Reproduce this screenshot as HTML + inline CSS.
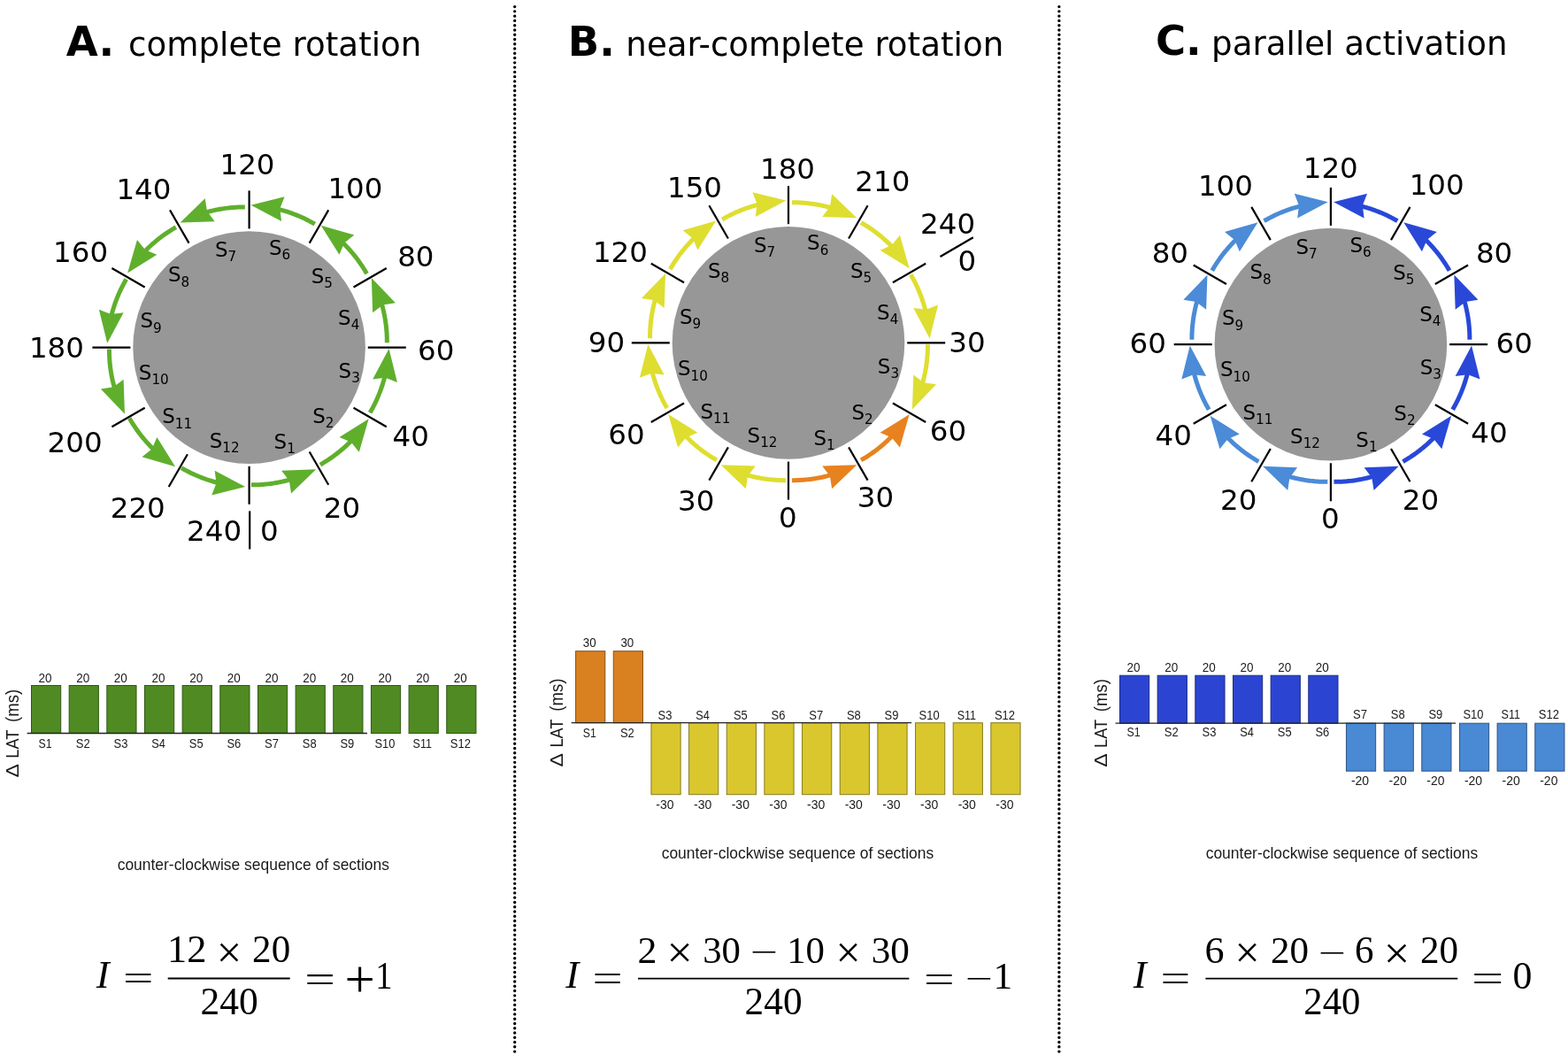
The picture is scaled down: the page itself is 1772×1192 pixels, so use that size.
<!DOCTYPE html>
<html><head><meta charset="utf-8"><title>Rotation index figure</title>
<style>html,body{margin:0;padding:0;background:#fff;overflow:hidden}svg{display:block}</style></head>
<body><svg width="1772" height="1192" viewBox="0 0 1772 1192">
<rect width="1772" height="1192" fill="#fff"/>
<line x1="581.7" y1="7.6" x2="581.7" y2="1190" stroke="#000" stroke-width="3.4" stroke-linecap="round" stroke-dasharray="0 5.27"/>
<line x1="1196.9" y1="7.6" x2="1196.9" y2="1190" stroke="#000" stroke-width="3.4" stroke-linecap="round" stroke-dasharray="0 5.27"/>
<text x="74.67" y="62.7" font-family="'DejaVu Sans', 'Liberation Sans', sans-serif" font-size="46.5" font-weight="bold">A.</text>
<text x="145.05" y="62.7" font-family="'DejaVu Sans', 'Liberation Sans', sans-serif" font-size="37.2">complete rotation</text>
<text x="641.83" y="62.5" font-family="'DejaVu Sans', 'Liberation Sans', sans-serif" font-size="46.5" font-weight="bold">B.</text>
<text x="707.32" y="62.5" font-family="'DejaVu Sans', 'Liberation Sans', sans-serif" font-size="37.2">near-complete rotation</text>
<text x="1305.88" y="62.4" font-family="'DejaVu Sans', 'Liberation Sans', sans-serif" font-size="46.5" font-weight="bold">C.</text>
<text x="1369.12" y="62.4" font-family="'DejaVu Sans', 'Liberation Sans', sans-serif" font-size="37.2">parallel activation</text>
<circle cx="281.6" cy="392.6" r="131.3" fill="#979797"/>
<line x1="281.6" y1="258.4" x2="281.6" y2="215.4" stroke="#000" stroke-width="2.2"/>
<line x1="349.7" y1="274.65" x2="371.2" y2="237.41" stroke="#000" stroke-width="2.2"/>
<line x1="399.55" y1="324.5" x2="436.79" y2="303" stroke="#000" stroke-width="2.2"/>
<line x1="415.8" y1="392.6" x2="458.8" y2="392.6" stroke="#000" stroke-width="2.2"/>
<line x1="399.55" y1="460.7" x2="436.79" y2="482.2" stroke="#000" stroke-width="2.2"/>
<line x1="349.7" y1="510.55" x2="371.2" y2="547.79" stroke="#000" stroke-width="2.2"/>
<line x1="281.6" y1="526.8" x2="281.6" y2="569.8" stroke="#000" stroke-width="2.2"/>
<line x1="211.9" y1="513.32" x2="190.7" y2="550.04" stroke="#000" stroke-width="2.2"/>
<line x1="163.65" y1="460.7" x2="126.41" y2="482.2" stroke="#000" stroke-width="2.2"/>
<line x1="147.4" y1="392.6" x2="104.4" y2="392.6" stroke="#000" stroke-width="2.2"/>
<line x1="163.65" y1="324.5" x2="126.41" y2="303" stroke="#000" stroke-width="2.2"/>
<line x1="213.5" y1="274.65" x2="192" y2="237.41" stroke="#000" stroke-width="2.2"/>
<line x1="282.2" y1="577.4" x2="282.2" y2="620.5" stroke="#000" stroke-width="2.2"/>
<path d="M283.96,547.86 L285.81,547.86 L287.67,547.84 L289.52,547.8 L291.37,547.73 L293.23,547.65 L295.08,547.54 L296.93,547.41 L298.78,547.26 L300.63,547.08 L302.48,546.88 L304.32,546.67 L306.17,546.43 L308.01,546.17 L309.85,545.88 L311.68,545.58 L313.51,545.25 L315.34,544.9 L317.17,544.53 L318.99,544.14 L320.81,543.73 L322.62,543.29 L324.43,542.83 L326.24,542.36 L328.03,541.86" fill="none" stroke="#5FAF2C" stroke-width="5.0"/>
<polygon points="357.22,530.34 329.06,557.46 326.83,543.2 318.15,531.67" fill="#5FAF2C"/>
<path d="M361.96,525.05 L363.57,524.12 L365.16,523.18 L366.75,522.22 L368.32,521.23 L369.88,520.23 L371.43,519.21 L372.97,518.17 L374.49,517.12 L376.01,516.04 L377.51,514.95 L379,513.84 L380.48,512.71 L381.94,511.56 L383.39,510.4 L384.83,509.21 L386.25,508.01 L387.66,506.8 L389.06,505.56 L390.44,504.31 L391.81,503.05 L393.16,501.76 L394.5,500.46 L395.82,499.15 L397.13,497.82" fill="none" stroke="#5FAF2C" stroke-width="5.0"/>
<polygon points="416.65,473.25 405.82,510.82 396.76,499.58 383.48,493.94" fill="#5FAF2C"/>
<path d="M418.11,466.3 L419.04,464.69 L419.95,463.08 L420.84,461.45 L421.71,459.81 L422.56,458.17 L423.39,456.51 L424.2,454.84 L425,453.16 L425.77,451.47 L426.53,449.77 L427.26,448.07 L427.97,446.35 L428.67,444.62 L429.34,442.89 L430,441.15 L430.63,439.4 L431.24,437.64 L431.83,435.87 L432.41,434.1 L432.96,432.32 L433.49,430.53 L434,428.73 L434.48,426.93 L434.95,425.13" fill="none" stroke="#5FAF2C" stroke-width="5.0"/>
<polygon points="439.57,394.1 448.97,432.04 435.51,426.84 421.19,428.6" fill="#5FAF2C"/>
<path d="M437.36,387.34 L437.36,385.49 L437.34,383.63 L437.3,381.78 L437.23,379.93 L437.15,378.07 L437.04,376.22 L436.91,374.37 L436.76,372.52 L436.58,370.67 L436.38,368.82 L436.17,366.98 L435.93,365.13 L435.67,363.29 L435.38,361.45 L435.08,359.62 L434.75,357.79 L434.4,355.96 L434.03,354.13 L433.64,352.31 L433.23,350.49 L432.79,348.68 L432.33,346.87 L431.86,345.06 L431.36,343.27" fill="none" stroke="#5FAF2C" stroke-width="5.0"/>
<polygon points="419.84,314.08 446.96,342.24 432.7,344.47 421.17,353.15" fill="#5FAF2C"/>
<path d="M414.55,309.34 L413.62,307.73 L412.68,306.14 L411.72,304.55 L410.73,302.98 L409.73,301.42 L408.71,299.87 L407.67,298.33 L406.62,296.81 L405.54,295.29 L404.45,293.79 L403.34,292.3 L402.21,290.82 L401.06,289.36 L399.9,287.91 L398.71,286.47 L397.51,285.05 L396.3,283.64 L395.06,282.24 L393.81,280.86 L392.55,279.49 L391.26,278.14 L389.96,276.8 L388.65,275.48 L387.32,274.17" fill="none" stroke="#5FAF2C" stroke-width="5.0"/>
<polygon points="362.75,254.65 400.32,265.48 389.08,274.54 383.44,287.82" fill="#5FAF2C"/>
<path d="M355.8,253.19 L354.19,252.26 L352.58,251.35 L350.95,250.46 L349.31,249.59 L347.67,248.74 L346.01,247.91 L344.34,247.1 L342.66,246.3 L340.97,245.53 L339.27,244.77 L337.57,244.04 L335.85,243.33 L334.12,242.63 L332.39,241.96 L330.65,241.3 L328.9,240.67 L327.14,240.06 L325.37,239.47 L323.6,238.89 L321.82,238.34 L320.03,237.81 L318.23,237.3 L316.43,236.82 L314.63,236.35" fill="none" stroke="#5FAF2C" stroke-width="5.0"/>
<polygon points="283.6,231.73 321.54,222.33 316.34,235.79 318.1,250.11" fill="#5FAF2C"/>
<path d="M276.84,233.94 L274.99,233.94 L273.13,233.96 L271.28,234 L269.43,234.07 L267.57,234.15 L265.72,234.26 L263.87,234.39 L262.02,234.54 L260.17,234.72 L258.32,234.92 L256.48,235.13 L254.63,235.37 L252.79,235.63 L250.95,235.92 L249.12,236.22 L247.29,236.55 L245.46,236.9 L243.63,237.27 L241.81,237.66 L239.99,238.07 L238.18,238.51 L236.37,238.97 L234.56,239.44 L232.77,239.94" fill="none" stroke="#5FAF2C" stroke-width="5.0"/>
<polygon points="203.58,251.46 231.74,224.34 233.97,238.6 242.65,250.13" fill="#5FAF2C"/>
<path d="M198.84,256.75 L197.23,257.68 L195.64,258.62 L194.05,259.58 L192.48,260.57 L190.92,261.57 L189.37,262.59 L187.83,263.63 L186.31,264.68 L184.79,265.76 L183.29,266.85 L181.8,267.96 L180.32,269.09 L178.86,270.24 L177.41,271.4 L175.97,272.59 L174.55,273.79 L173.14,275 L171.74,276.24 L170.36,277.49 L168.99,278.75 L167.64,280.04 L166.3,281.34 L164.98,282.65 L163.67,283.98" fill="none" stroke="#5FAF2C" stroke-width="5.0"/>
<polygon points="144.15,308.55 154.98,270.98 164.04,282.22 177.32,287.86" fill="#5FAF2C"/>
<path d="M142.69,315.5 L141.76,317.11 L140.85,318.72 L139.96,320.35 L139.09,321.99 L138.24,323.63 L137.41,325.29 L136.6,326.96 L135.8,328.64 L135.03,330.33 L134.27,332.03 L133.54,333.73 L132.83,335.45 L132.13,337.18 L131.46,338.91 L130.8,340.65 L130.17,342.4 L129.56,344.16 L128.97,345.93 L128.39,347.7 L127.84,349.48 L127.31,351.27 L126.8,353.07 L126.32,354.87 L125.85,356.67" fill="none" stroke="#5FAF2C" stroke-width="5.0"/>
<polygon points="121.23,387.7 111.83,349.76 125.29,354.96 139.61,353.2" fill="#5FAF2C"/>
<path d="M123.44,394.46 L123.44,396.31 L123.46,398.17 L123.5,400.02 L123.57,401.87 L123.65,403.73 L123.76,405.58 L123.89,407.43 L124.04,409.28 L124.22,411.13 L124.42,412.98 L124.63,414.82 L124.87,416.67 L125.13,418.51 L125.42,420.35 L125.72,422.18 L126.05,424.01 L126.4,425.84 L126.77,427.67 L127.16,429.49 L127.57,431.31 L128.01,433.12 L128.47,434.93 L128.94,436.74 L129.44,438.53" fill="none" stroke="#5FAF2C" stroke-width="5.0"/>
<polygon points="140.96,467.72 113.84,439.56 128.1,437.33 139.63,428.65" fill="#5FAF2C"/>
<path d="M146.25,472.46 L147.18,474.07 L148.12,475.66 L149.08,477.25 L150.07,478.82 L151.07,480.38 L152.09,481.93 L153.13,483.47 L154.18,484.99 L155.26,486.51 L156.35,488.01 L157.46,489.5 L158.59,490.98 L159.74,492.44 L160.9,493.89 L162.09,495.33 L163.29,496.75 L164.5,498.16 L165.74,499.56 L166.99,500.94 L168.25,502.31 L169.54,503.66 L170.84,505 L172.15,506.32 L173.48,507.63" fill="none" stroke="#5FAF2C" stroke-width="5.0"/>
<polygon points="198.05,527.15 160.48,516.32 171.72,507.26 177.36,493.98" fill="#5FAF2C"/>
<path d="M205,528.61 L206.61,529.54 L208.22,530.45 L209.85,531.34 L211.49,532.21 L213.13,533.06 L214.79,533.89 L216.46,534.7 L218.14,535.5 L219.83,536.27 L221.53,537.03 L223.23,537.76 L224.95,538.47 L226.68,539.17 L228.41,539.84 L230.15,540.5 L231.9,541.13 L233.66,541.74 L235.43,542.33 L237.2,542.91 L238.98,543.46 L240.77,543.99 L242.57,544.5 L244.37,544.98 L246.17,545.45" fill="none" stroke="#5FAF2C" stroke-width="5.0"/>
<polygon points="277.2,550.07 239.26,559.47 244.46,546.01 242.7,531.69" fill="#5FAF2C"/>
<text x="248.53" y="197.4" font-family="'DejaVu Sans', 'Liberation Sans', sans-serif" font-size="32.5">120</text>
<text x="370.38" y="223.5" font-family="'DejaVu Sans', 'Liberation Sans', sans-serif" font-size="32.5">100</text>
<text x="449.15" y="300.5" font-family="'DejaVu Sans', 'Liberation Sans', sans-serif" font-size="32.5">80</text>
<text x="472.07" y="406.6" font-family="'DejaVu Sans', 'Liberation Sans', sans-serif" font-size="32.5">60</text>
<text x="443.56" y="504.2" font-family="'DejaVu Sans', 'Liberation Sans', sans-serif" font-size="32.5">40</text>
<text x="365.86" y="585.1" font-family="'DejaVu Sans', 'Liberation Sans', sans-serif" font-size="32.5">20</text>
<text x="294.07" y="610.7" font-family="'DejaVu Sans', 'Liberation Sans', sans-serif" font-size="32.5">0</text>
<text x="211.07" y="610.7" font-family="'DejaVu Sans', 'Liberation Sans', sans-serif" font-size="32.5">240</text>
<text x="124.72" y="585.1" font-family="'DejaVu Sans', 'Liberation Sans', sans-serif" font-size="32.5">220</text>
<text x="53.62" y="511.1" font-family="'DejaVu Sans', 'Liberation Sans', sans-serif" font-size="32.5">200</text>
<text x="32.93" y="403.5" font-family="'DejaVu Sans', 'Liberation Sans', sans-serif" font-size="32.5">180</text>
<text x="60.08" y="296.3" font-family="'DejaVu Sans', 'Liberation Sans', sans-serif" font-size="32.5">160</text>
<text x="131.38" y="224.5" font-family="'DejaVu Sans', 'Liberation Sans', sans-serif" font-size="32.5">140</text>
<text x="309.58" y="507.17" font-family="'DejaVu Sans', 'Liberation Sans', sans-serif" font-size="23">S<tspan font-size="15.2" dy="5.2">1</tspan></text>
<text x="353.18" y="477.77" font-family="'DejaVu Sans', 'Liberation Sans', sans-serif" font-size="23">S<tspan font-size="15.2" dy="5.2">2</tspan></text>
<text x="382.58" y="427.07" font-family="'DejaVu Sans', 'Liberation Sans', sans-serif" font-size="23">S<tspan font-size="15.2" dy="5.2">3</tspan></text>
<text x="382.08" y="367.07" font-family="'DejaVu Sans', 'Liberation Sans', sans-serif" font-size="23">S<tspan font-size="15.2" dy="5.2">4</tspan></text>
<text x="351.68" y="319.67" font-family="'DejaVu Sans', 'Liberation Sans', sans-serif" font-size="23">S<tspan font-size="15.2" dy="5.2">5</tspan></text>
<text x="303.88" y="288.17" font-family="'DejaVu Sans', 'Liberation Sans', sans-serif" font-size="23">S<tspan font-size="15.2" dy="5.2">6</tspan></text>
<text x="242.98" y="290.27" font-family="'DejaVu Sans', 'Liberation Sans', sans-serif" font-size="23">S<tspan font-size="15.2" dy="5.2">7</tspan></text>
<text x="189.88" y="318.37" font-family="'DejaVu Sans', 'Liberation Sans', sans-serif" font-size="23">S<tspan font-size="15.2" dy="5.2">8</tspan></text>
<text x="158.48" y="370.37" font-family="'DejaVu Sans', 'Liberation Sans', sans-serif" font-size="23">S<tspan font-size="15.2" dy="5.2">9</tspan></text>
<text x="156.78" y="428.87" font-family="'DejaVu Sans', 'Liberation Sans', sans-serif" font-size="23">S<tspan font-size="15.2" dy="5.2">10</tspan></text>
<text x="183.18" y="478.47" font-family="'DejaVu Sans', 'Liberation Sans', sans-serif" font-size="23">S<tspan font-size="15.2" dy="5.2">11</tspan></text>
<text x="236.68" y="505.67" font-family="'DejaVu Sans', 'Liberation Sans', sans-serif" font-size="23">S<tspan font-size="15.2" dy="5.2">12</tspan></text>
<circle cx="891" cy="387.4" r="131.3" fill="#979797"/>
<line x1="891" y1="253.2" x2="891" y2="210.2" stroke="#000" stroke-width="2.2"/>
<line x1="959.1" y1="269.45" x2="980.6" y2="232.21" stroke="#000" stroke-width="2.2"/>
<line x1="1008.95" y1="319.3" x2="1046.19" y2="297.8" stroke="#000" stroke-width="2.2"/>
<line x1="1025.2" y1="387.4" x2="1068.2" y2="387.4" stroke="#000" stroke-width="2.2"/>
<line x1="1008.95" y1="455.5" x2="1046.19" y2="477" stroke="#000" stroke-width="2.2"/>
<line x1="959.1" y1="505.35" x2="980.6" y2="542.59" stroke="#000" stroke-width="2.2"/>
<line x1="891" y1="521.6" x2="891" y2="564.6" stroke="#000" stroke-width="2.2"/>
<line x1="822.9" y1="505.35" x2="801.4" y2="542.59" stroke="#000" stroke-width="2.2"/>
<line x1="773.05" y1="455.5" x2="735.81" y2="477" stroke="#000" stroke-width="2.2"/>
<line x1="756.8" y1="387.4" x2="713.8" y2="387.4" stroke="#000" stroke-width="2.2"/>
<line x1="773.05" y1="319.3" x2="735.81" y2="297.8" stroke="#000" stroke-width="2.2"/>
<line x1="822.9" y1="269.45" x2="801.4" y2="232.21" stroke="#000" stroke-width="2.2"/>
<line x1="1062.5" y1="290" x2="1099.8" y2="268.2" stroke="#000" stroke-width="2.2"/>
<path d="M895.06,542.66 L896.91,542.66 L898.77,542.64 L900.62,542.6 L902.47,542.53 L904.33,542.45 L906.18,542.34 L908.03,542.21 L909.88,542.06 L911.73,541.88 L913.58,541.68 L915.42,541.47 L917.27,541.23 L919.11,540.97 L920.95,540.68 L922.78,540.38 L924.61,540.05 L926.44,539.7 L928.27,539.33 L930.09,538.94 L931.91,538.53 L933.72,538.09 L935.53,537.63 L937.34,537.16 L939.13,536.66" fill="none" stroke="#E8821E" stroke-width="5.0"/>
<polygon points="968.32,525.14 940.16,552.26 937.93,538 929.25,526.47" fill="#E8821E"/>
<path d="M973.06,519.85 L974.67,518.92 L976.26,517.98 L977.85,517.02 L979.42,516.03 L980.98,515.03 L982.53,514.01 L984.07,512.97 L985.59,511.92 L987.11,510.84 L988.61,509.75 L990.1,508.64 L991.58,507.51 L993.04,506.36 L994.49,505.2 L995.93,504.01 L997.35,502.81 L998.76,501.6 L1000.16,500.36 L1001.54,499.11 L1002.91,497.85 L1004.26,496.56 L1005.6,495.26 L1006.92,493.95 L1008.23,492.62" fill="none" stroke="#E8821E" stroke-width="5.0"/>
<polygon points="1027.75,468.05 1016.92,505.62 1007.86,494.38 994.58,488.74" fill="#E8821E"/>
<path d="M887.94,542.66 L886.09,542.66 L884.23,542.64 L882.38,542.6 L880.53,542.53 L878.67,542.45 L876.82,542.34 L874.97,542.21 L873.12,542.06 L871.27,541.88 L869.42,541.68 L867.58,541.47 L865.73,541.23 L863.89,540.97 L862.05,540.68 L860.22,540.38 L858.39,540.05 L856.56,539.7 L854.73,539.33 L852.91,538.94 L851.09,538.53 L849.28,538.09 L847.47,537.63 L845.66,537.16 L843.87,536.66" fill="none" stroke="#DEDE30" stroke-width="5.0"/>
<polygon points="814.68,525.14 853.75,526.47 845.07,538 842.84,552.26" fill="#DEDE30"/>
<path d="M809.94,519.85 L808.33,518.92 L806.74,517.98 L805.15,517.02 L803.58,516.03 L802.02,515.03 L800.47,514.01 L798.93,512.97 L797.41,511.92 L795.89,510.84 L794.39,509.75 L792.9,508.64 L791.42,507.51 L789.96,506.36 L788.51,505.2 L787.07,504.01 L785.65,502.81 L784.24,501.6 L782.84,500.36 L781.46,499.11 L780.09,497.85 L778.74,496.56 L777.4,495.26 L776.08,493.95 L774.77,492.62" fill="none" stroke="#DEDE30" stroke-width="5.0"/>
<polygon points="755.25,468.05 788.42,488.74 775.14,494.38 766.08,505.62" fill="#DEDE30"/>
<path d="M753.79,461.1 L752.86,459.49 L751.95,457.88 L751.06,456.25 L750.19,454.61 L749.34,452.97 L748.51,451.31 L747.7,449.64 L746.9,447.96 L746.13,446.27 L745.37,444.57 L744.64,442.87 L743.93,441.15 L743.23,439.42 L742.56,437.69 L741.9,435.95 L741.27,434.2 L740.66,432.44 L740.07,430.67 L739.49,428.9 L738.94,427.12 L738.41,425.33 L737.9,423.53 L737.42,421.73 L736.95,419.93" fill="none" stroke="#DEDE30" stroke-width="5.0"/>
<polygon points="732.33,388.9 750.71,423.4 736.39,421.64 722.93,426.84" fill="#DEDE30"/>
<path d="M734.54,382.14 L734.54,380.29 L734.56,378.43 L734.6,376.58 L734.67,374.73 L734.75,372.87 L734.86,371.02 L734.99,369.17 L735.14,367.32 L735.32,365.47 L735.52,363.62 L735.73,361.78 L735.97,359.93 L736.23,358.09 L736.52,356.25 L736.82,354.42 L737.15,352.59 L737.5,350.76 L737.87,348.93 L738.26,347.11 L738.67,345.29 L739.11,343.48 L739.57,341.67 L740.04,339.86 L740.54,338.07" fill="none" stroke="#DEDE30" stroke-width="5.0"/>
<polygon points="752.06,308.88 750.73,347.95 739.2,339.27 724.94,337.04" fill="#DEDE30"/>
<path d="M757.35,304.14 L758.28,302.53 L759.22,300.94 L760.18,299.35 L761.17,297.78 L762.17,296.22 L763.19,294.67 L764.23,293.13 L765.28,291.61 L766.36,290.09 L767.45,288.59 L768.56,287.1 L769.69,285.62 L770.84,284.16 L772,282.71 L773.19,281.27 L774.39,279.85 L775.6,278.44 L776.84,277.04 L778.09,275.66 L779.35,274.29 L780.64,272.94 L781.94,271.6 L783.25,270.28 L784.58,268.97" fill="none" stroke="#DEDE30" stroke-width="5.0"/>
<polygon points="809.15,249.45 788.46,282.62 782.82,269.34 771.58,260.28" fill="#DEDE30"/>
<path d="M816.1,247.99 L817.71,247.06 L819.32,246.15 L820.95,245.26 L822.59,244.39 L824.23,243.54 L825.89,242.71 L827.56,241.9 L829.24,241.1 L830.93,240.33 L832.63,239.57 L834.33,238.84 L836.05,238.13 L837.78,237.43 L839.51,236.76 L841.25,236.1 L843,235.47 L844.76,234.86 L846.53,234.27 L848.3,233.69 L850.08,233.14 L851.87,232.61 L853.67,232.1 L855.47,231.62 L857.27,231.15" fill="none" stroke="#DEDE30" stroke-width="5.0"/>
<polygon points="888.3,226.53 853.8,244.91 855.56,230.59 850.36,217.13" fill="#DEDE30"/>
<path d="M895.06,228.74 L896.91,228.74 L898.77,228.76 L900.62,228.8 L902.47,228.87 L904.33,228.95 L906.18,229.06 L908.03,229.19 L909.88,229.34 L911.73,229.52 L913.58,229.72 L915.42,229.93 L917.27,230.17 L919.11,230.43 L920.95,230.72 L922.78,231.02 L924.61,231.35 L926.44,231.7 L928.27,232.07 L930.09,232.46 L931.91,232.87 L933.72,233.31 L935.53,233.77 L937.34,234.24 L939.13,234.74" fill="none" stroke="#DEDE30" stroke-width="5.0"/>
<polygon points="968.32,246.26 929.25,244.93 937.93,233.4 940.16,219.14" fill="#DEDE30"/>
<path d="M973.06,251.55 L974.67,252.48 L976.26,253.42 L977.85,254.38 L979.42,255.37 L980.98,256.37 L982.53,257.39 L984.07,258.43 L985.59,259.48 L987.11,260.56 L988.61,261.65 L990.1,262.76 L991.58,263.89 L993.04,265.04 L994.49,266.2 L995.93,267.39 L997.35,268.59 L998.76,269.8 L1000.16,271.04 L1001.54,272.29 L1002.91,273.55 L1004.26,274.84 L1005.6,276.14 L1006.92,277.45 L1008.23,278.78" fill="none" stroke="#DEDE30" stroke-width="5.0"/>
<polygon points="1027.75,303.35 994.58,282.66 1007.86,277.02 1016.92,265.78" fill="#DEDE30"/>
<path d="M1029.21,310.3 L1030.14,311.91 L1031.05,313.52 L1031.94,315.15 L1032.81,316.79 L1033.66,318.43 L1034.49,320.09 L1035.3,321.76 L1036.1,323.44 L1036.87,325.13 L1037.63,326.83 L1038.36,328.53 L1039.07,330.25 L1039.77,331.98 L1040.44,333.71 L1041.1,335.45 L1041.73,337.2 L1042.34,338.96 L1042.93,340.73 L1043.51,342.5 L1044.06,344.28 L1044.59,346.07 L1045.1,347.87 L1045.58,349.67 L1046.05,351.47" fill="none" stroke="#DEDE30" stroke-width="5.0"/>
<polygon points="1050.67,382.5 1032.29,348 1046.61,349.76 1060.07,344.56" fill="#DEDE30"/>
<path d="M1048.46,389.26 L1048.46,391.11 L1048.44,392.97 L1048.4,394.82 L1048.33,396.67 L1048.25,398.53 L1048.14,400.38 L1048.01,402.23 L1047.86,404.08 L1047.68,405.93 L1047.48,407.78 L1047.27,409.62 L1047.03,411.47 L1046.77,413.31 L1046.48,415.15 L1046.18,416.98 L1045.85,418.81 L1045.5,420.64 L1045.13,422.47 L1044.74,424.29 L1044.33,426.11 L1043.89,427.92 L1043.43,429.73 L1042.96,431.54 L1042.46,433.33" fill="none" stroke="#DEDE30" stroke-width="5.0"/>
<polygon points="1030.94,462.52 1032.27,423.45 1043.8,432.13 1058.06,434.36" fill="#DEDE30"/>
<text x="859.03" y="201.5" font-family="'DejaVu Sans', 'Liberation Sans', sans-serif" font-size="32.5">180</text>
<text x="966.32" y="216.1" font-family="'DejaVu Sans', 'Liberation Sans', sans-serif" font-size="32.5">210</text>
<text x="1040.12" y="264.4" font-family="'DejaVu Sans', 'Liberation Sans', sans-serif" font-size="32.5">240</text>
<text x="1082.57" y="306.3" font-family="'DejaVu Sans', 'Liberation Sans', sans-serif" font-size="32.5">0</text>
<text x="1072.36" y="398.2" font-family="'DejaVu Sans', 'Liberation Sans', sans-serif" font-size="32.5">30</text>
<text x="1050.87" y="497.9" font-family="'DejaVu Sans', 'Liberation Sans', sans-serif" font-size="32.5">60</text>
<text x="968.71" y="573.4" font-family="'DejaVu Sans', 'Liberation Sans', sans-serif" font-size="32.5">30</text>
<text x="880.02" y="595.6" font-family="'DejaVu Sans', 'Liberation Sans', sans-serif" font-size="32.5">0</text>
<text x="766.01" y="577.1" font-family="'DejaVu Sans', 'Liberation Sans', sans-serif" font-size="32.5">30</text>
<text x="687.27" y="501.6" font-family="'DejaVu Sans', 'Liberation Sans', sans-serif" font-size="32.5">60</text>
<text x="664.83" y="398.2" font-family="'DejaVu Sans', 'Liberation Sans', sans-serif" font-size="32.5">90</text>
<text x="669.88" y="296.3" font-family="'DejaVu Sans', 'Liberation Sans', sans-serif" font-size="32.5">120</text>
<text x="753.98" y="222.9" font-family="'DejaVu Sans', 'Liberation Sans', sans-serif" font-size="32.5">150</text>
<text x="919.38" y="502.97" font-family="'DejaVu Sans', 'Liberation Sans', sans-serif" font-size="23">S<tspan font-size="15.2" dy="5.2">1</tspan></text>
<text x="962.38" y="473.67" font-family="'DejaVu Sans', 'Liberation Sans', sans-serif" font-size="23">S<tspan font-size="15.2" dy="5.2">2</tspan></text>
<text x="991.78" y="422.27" font-family="'DejaVu Sans', 'Liberation Sans', sans-serif" font-size="23">S<tspan font-size="15.2" dy="5.2">3</tspan></text>
<text x="991.08" y="361.17" font-family="'DejaVu Sans', 'Liberation Sans', sans-serif" font-size="23">S<tspan font-size="15.2" dy="5.2">4</tspan></text>
<text x="960.88" y="313.97" font-family="'DejaVu Sans', 'Liberation Sans', sans-serif" font-size="23">S<tspan font-size="15.2" dy="5.2">5</tspan></text>
<text x="912.08" y="282.47" font-family="'DejaVu Sans', 'Liberation Sans', sans-serif" font-size="23">S<tspan font-size="15.2" dy="5.2">6</tspan></text>
<text x="851.88" y="285.27" font-family="'DejaVu Sans', 'Liberation Sans', sans-serif" font-size="23">S<tspan font-size="15.2" dy="5.2">7</tspan></text>
<text x="799.88" y="313.97" font-family="'DejaVu Sans', 'Liberation Sans', sans-serif" font-size="23">S<tspan font-size="15.2" dy="5.2">8</tspan></text>
<text x="767.98" y="365.77" font-family="'DejaVu Sans', 'Liberation Sans', sans-serif" font-size="23">S<tspan font-size="15.2" dy="5.2">9</tspan></text>
<text x="765.98" y="424.37" font-family="'DejaVu Sans', 'Liberation Sans', sans-serif" font-size="23">S<tspan font-size="15.2" dy="5.2">10</tspan></text>
<text x="791.48" y="472.57" font-family="'DejaVu Sans', 'Liberation Sans', sans-serif" font-size="23">S<tspan font-size="15.2" dy="5.2">11</tspan></text>
<text x="844.58" y="499.87" font-family="'DejaVu Sans', 'Liberation Sans', sans-serif" font-size="23">S<tspan font-size="15.2" dy="5.2">12</tspan></text>
<circle cx="1503.9" cy="389.1" r="131.3" fill="#979797"/>
<line x1="1503.9" y1="254.9" x2="1503.9" y2="211.9" stroke="#000" stroke-width="2.2"/>
<line x1="1572" y1="271.15" x2="1593.5" y2="233.91" stroke="#000" stroke-width="2.2"/>
<line x1="1621.85" y1="321" x2="1659.09" y2="299.5" stroke="#000" stroke-width="2.2"/>
<line x1="1638.1" y1="389.1" x2="1681.1" y2="389.1" stroke="#000" stroke-width="2.2"/>
<line x1="1621.85" y1="457.2" x2="1659.09" y2="478.7" stroke="#000" stroke-width="2.2"/>
<line x1="1572" y1="507.05" x2="1593.5" y2="544.29" stroke="#000" stroke-width="2.2"/>
<line x1="1503.9" y1="523.3" x2="1503.9" y2="566.3" stroke="#000" stroke-width="2.2"/>
<line x1="1435.8" y1="507.05" x2="1414.3" y2="544.29" stroke="#000" stroke-width="2.2"/>
<line x1="1385.95" y1="457.2" x2="1348.71" y2="478.7" stroke="#000" stroke-width="2.2"/>
<line x1="1369.7" y1="389.1" x2="1326.7" y2="389.1" stroke="#000" stroke-width="2.2"/>
<line x1="1385.95" y1="321" x2="1348.71" y2="299.5" stroke="#000" stroke-width="2.2"/>
<line x1="1435.8" y1="271.15" x2="1414.3" y2="233.91" stroke="#000" stroke-width="2.2"/>
<path d="M1507.46,544.36 L1509.31,544.36 L1511.17,544.34 L1513.02,544.3 L1514.87,544.23 L1516.73,544.15 L1518.58,544.04 L1520.43,543.91 L1522.28,543.76 L1524.13,543.58 L1525.98,543.38 L1527.82,543.17 L1529.67,542.93 L1531.51,542.67 L1533.35,542.38 L1535.18,542.08 L1537.01,541.75 L1538.84,541.4 L1540.67,541.03 L1542.49,540.64 L1544.31,540.23 L1546.12,539.79 L1547.93,539.33 L1549.74,538.86 L1551.53,538.36" fill="none" stroke="#2948D8" stroke-width="5.0"/>
<polygon points="1580.72,526.84 1552.56,553.96 1550.33,539.7 1541.65,528.17" fill="#2948D8"/>
<path d="M1585.46,521.55 L1587.07,520.62 L1588.66,519.68 L1590.25,518.72 L1591.82,517.73 L1593.38,516.73 L1594.93,515.71 L1596.47,514.67 L1597.99,513.62 L1599.51,512.54 L1601.01,511.45 L1602.5,510.34 L1603.98,509.21 L1605.44,508.06 L1606.89,506.9 L1608.33,505.71 L1609.75,504.51 L1611.16,503.3 L1612.56,502.06 L1613.94,500.81 L1615.31,499.55 L1616.66,498.26 L1618,496.96 L1619.32,495.65 L1620.63,494.32" fill="none" stroke="#2948D8" stroke-width="5.0"/>
<polygon points="1640.15,469.75 1629.32,507.32 1620.26,496.08 1606.98,490.44" fill="#2948D8"/>
<path d="M1641.61,462.8 L1642.54,461.19 L1643.45,459.58 L1644.34,457.95 L1645.21,456.31 L1646.06,454.67 L1646.89,453.01 L1647.7,451.34 L1648.5,449.66 L1649.27,447.97 L1650.03,446.27 L1650.76,444.57 L1651.47,442.85 L1652.17,441.12 L1652.84,439.39 L1653.5,437.65 L1654.13,435.9 L1654.74,434.14 L1655.33,432.37 L1655.91,430.6 L1656.46,428.82 L1656.99,427.03 L1657.5,425.23 L1657.98,423.43 L1658.45,421.63" fill="none" stroke="#2948D8" stroke-width="5.0"/>
<polygon points="1663.07,390.6 1672.47,428.54 1659.01,423.34 1644.69,425.1" fill="#2948D8"/>
<path d="M1660.86,383.84 L1660.86,381.99 L1660.84,380.13 L1660.8,378.28 L1660.73,376.43 L1660.65,374.57 L1660.54,372.72 L1660.41,370.87 L1660.26,369.02 L1660.08,367.17 L1659.88,365.32 L1659.67,363.48 L1659.43,361.63 L1659.17,359.79 L1658.88,357.95 L1658.58,356.12 L1658.25,354.29 L1657.9,352.46 L1657.53,350.63 L1657.14,348.81 L1656.73,346.99 L1656.29,345.18 L1655.83,343.37 L1655.36,341.56 L1654.86,339.77" fill="none" stroke="#2948D8" stroke-width="5.0"/>
<polygon points="1643.34,310.58 1670.46,338.74 1656.2,340.97 1644.67,349.65" fill="#2948D8"/>
<path d="M1638.05,305.84 L1637.12,304.23 L1636.18,302.64 L1635.22,301.05 L1634.23,299.48 L1633.23,297.92 L1632.21,296.37 L1631.17,294.83 L1630.12,293.31 L1629.04,291.79 L1627.95,290.29 L1626.84,288.8 L1625.71,287.32 L1624.56,285.86 L1623.4,284.41 L1622.21,282.97 L1621.01,281.55 L1619.8,280.14 L1618.56,278.74 L1617.31,277.36 L1616.05,275.99 L1614.76,274.64 L1613.46,273.3 L1612.15,271.98 L1610.82,270.67" fill="none" stroke="#2948D8" stroke-width="5.0"/>
<polygon points="1586.25,251.15 1623.82,261.98 1612.58,271.04 1606.94,284.32" fill="#2948D8"/>
<path d="M1579.3,249.69 L1577.69,248.76 L1576.08,247.85 L1574.45,246.96 L1572.81,246.09 L1571.17,245.24 L1569.51,244.41 L1567.84,243.6 L1566.16,242.8 L1564.47,242.03 L1562.77,241.27 L1561.07,240.54 L1559.35,239.83 L1557.62,239.13 L1555.89,238.46 L1554.15,237.8 L1552.4,237.17 L1550.64,236.56 L1548.87,235.97 L1547.1,235.39 L1545.32,234.84 L1543.53,234.31 L1541.73,233.8 L1539.93,233.32 L1538.13,232.85" fill="none" stroke="#2948D8" stroke-width="5.0"/>
<polygon points="1507.1,228.23 1545.04,218.83 1539.84,232.29 1541.6,246.61" fill="#2948D8"/>
<path d="M1500.34,544.36 L1498.49,544.36 L1496.63,544.34 L1494.78,544.3 L1492.93,544.23 L1491.07,544.15 L1489.22,544.04 L1487.37,543.91 L1485.52,543.76 L1483.67,543.58 L1481.82,543.38 L1479.98,543.17 L1478.13,542.93 L1476.29,542.67 L1474.45,542.38 L1472.62,542.08 L1470.79,541.75 L1468.96,541.4 L1467.13,541.03 L1465.31,540.64 L1463.49,540.23 L1461.68,539.79 L1459.87,539.33 L1458.06,538.86 L1456.27,538.36" fill="none" stroke="#4B8BD7" stroke-width="5.0"/>
<polygon points="1427.08,526.84 1466.15,528.17 1457.47,539.7 1455.24,553.96" fill="#4B8BD7"/>
<path d="M1422.34,521.55 L1420.73,520.62 L1419.14,519.68 L1417.55,518.72 L1415.98,517.73 L1414.42,516.73 L1412.87,515.71 L1411.33,514.67 L1409.81,513.62 L1408.29,512.54 L1406.79,511.45 L1405.3,510.34 L1403.82,509.21 L1402.36,508.06 L1400.91,506.9 L1399.47,505.71 L1398.05,504.51 L1396.64,503.3 L1395.24,502.06 L1393.86,500.81 L1392.49,499.55 L1391.14,498.26 L1389.8,496.96 L1388.48,495.65 L1387.17,494.32" fill="none" stroke="#4B8BD7" stroke-width="5.0"/>
<polygon points="1367.65,469.75 1400.82,490.44 1387.54,496.08 1378.48,507.32" fill="#4B8BD7"/>
<path d="M1366.19,462.8 L1365.26,461.19 L1364.35,459.58 L1363.46,457.95 L1362.59,456.31 L1361.74,454.67 L1360.91,453.01 L1360.1,451.34 L1359.3,449.66 L1358.53,447.97 L1357.77,446.27 L1357.04,444.57 L1356.33,442.85 L1355.63,441.12 L1354.96,439.39 L1354.3,437.65 L1353.67,435.9 L1353.06,434.14 L1352.47,432.37 L1351.89,430.6 L1351.34,428.82 L1350.81,427.03 L1350.3,425.23 L1349.82,423.43 L1349.35,421.63" fill="none" stroke="#4B8BD7" stroke-width="5.0"/>
<polygon points="1344.73,390.6 1363.11,425.1 1348.79,423.34 1335.33,428.54" fill="#4B8BD7"/>
<path d="M1346.94,383.84 L1346.94,381.99 L1346.96,380.13 L1347,378.28 L1347.07,376.43 L1347.15,374.57 L1347.26,372.72 L1347.39,370.87 L1347.54,369.02 L1347.72,367.17 L1347.92,365.32 L1348.13,363.48 L1348.37,361.63 L1348.63,359.79 L1348.92,357.95 L1349.22,356.12 L1349.55,354.29 L1349.9,352.46 L1350.27,350.63 L1350.66,348.81 L1351.07,346.99 L1351.51,345.18 L1351.97,343.37 L1352.44,341.56 L1352.94,339.77" fill="none" stroke="#4B8BD7" stroke-width="5.0"/>
<polygon points="1364.46,310.58 1363.13,349.65 1351.6,340.97 1337.34,338.74" fill="#4B8BD7"/>
<path d="M1369.75,305.84 L1370.68,304.23 L1371.62,302.64 L1372.58,301.05 L1373.57,299.48 L1374.57,297.92 L1375.59,296.37 L1376.63,294.83 L1377.68,293.31 L1378.76,291.79 L1379.85,290.29 L1380.96,288.8 L1382.09,287.32 L1383.24,285.86 L1384.4,284.41 L1385.59,282.97 L1386.79,281.55 L1388,280.14 L1389.24,278.74 L1390.49,277.36 L1391.75,275.99 L1393.04,274.64 L1394.34,273.3 L1395.65,271.98 L1396.98,270.67" fill="none" stroke="#4B8BD7" stroke-width="5.0"/>
<polygon points="1421.55,251.15 1400.86,284.32 1395.22,271.04 1383.98,261.98" fill="#4B8BD7"/>
<path d="M1428.5,249.69 L1430.11,248.76 L1431.72,247.85 L1433.35,246.96 L1434.99,246.09 L1436.63,245.24 L1438.29,244.41 L1439.96,243.6 L1441.64,242.8 L1443.33,242.03 L1445.03,241.27 L1446.73,240.54 L1448.45,239.83 L1450.18,239.13 L1451.91,238.46 L1453.65,237.8 L1455.4,237.17 L1457.16,236.56 L1458.93,235.97 L1460.7,235.39 L1462.48,234.84 L1464.27,234.31 L1466.07,233.8 L1467.87,233.32 L1469.67,232.85" fill="none" stroke="#4B8BD7" stroke-width="5.0"/>
<polygon points="1500.7,228.23 1466.2,246.61 1467.96,232.29 1462.76,218.83" fill="#4B8BD7"/>
<text x="1472.73" y="201.2" font-family="'DejaVu Sans', 'Liberation Sans', sans-serif" font-size="32.5">120</text>
<text x="1592.68" y="219.9" font-family="'DejaVu Sans', 'Liberation Sans', sans-serif" font-size="32.5">100</text>
<text x="1667.95" y="296.9" font-family="'DejaVu Sans', 'Liberation Sans', sans-serif" font-size="32.5">80</text>
<text x="1690.52" y="398.6" font-family="'DejaVu Sans', 'Liberation Sans', sans-serif" font-size="32.5">60</text>
<text x="1662.31" y="499.5" font-family="'DejaVu Sans', 'Liberation Sans', sans-serif" font-size="32.5">40</text>
<text x="1584.86" y="575.5" font-family="'DejaVu Sans', 'Liberation Sans', sans-serif" font-size="32.5">20</text>
<text x="1493.07" y="596.9" font-family="'DejaVu Sans', 'Liberation Sans', sans-serif" font-size="32.5">0</text>
<text x="1378.96" y="576.1" font-family="'DejaVu Sans', 'Liberation Sans', sans-serif" font-size="32.5">20</text>
<text x="1305.46" y="502.7" font-family="'DejaVu Sans', 'Liberation Sans', sans-serif" font-size="32.5">40</text>
<text x="1276.47" y="398.6" font-family="'DejaVu Sans', 'Liberation Sans', sans-serif" font-size="32.5">60</text>
<text x="1301.65" y="296.9" font-family="'DejaVu Sans', 'Liberation Sans', sans-serif" font-size="32.5">80</text>
<text x="1353.88" y="220.8" font-family="'DejaVu Sans', 'Liberation Sans', sans-serif" font-size="32.5">100</text>
<text x="1532.28" y="505.07" font-family="'DejaVu Sans', 'Liberation Sans', sans-serif" font-size="23">S<tspan font-size="15.2" dy="5.2">1</tspan></text>
<text x="1575.28" y="475.07" font-family="'DejaVu Sans', 'Liberation Sans', sans-serif" font-size="23">S<tspan font-size="15.2" dy="5.2">2</tspan></text>
<text x="1604.68" y="423.27" font-family="'DejaVu Sans', 'Liberation Sans', sans-serif" font-size="23">S<tspan font-size="15.2" dy="5.2">3</tspan></text>
<text x="1604.18" y="363.27" font-family="'DejaVu Sans', 'Liberation Sans', sans-serif" font-size="23">S<tspan font-size="15.2" dy="5.2">4</tspan></text>
<text x="1574.18" y="316.07" font-family="'DejaVu Sans', 'Liberation Sans', sans-serif" font-size="23">S<tspan font-size="15.2" dy="5.2">5</tspan></text>
<text x="1525.38" y="284.57" font-family="'DejaVu Sans', 'Liberation Sans', sans-serif" font-size="23">S<tspan font-size="15.2" dy="5.2">6</tspan></text>
<text x="1464.38" y="286.67" font-family="'DejaVu Sans', 'Liberation Sans', sans-serif" font-size="23">S<tspan font-size="15.2" dy="5.2">7</tspan></text>
<text x="1412.38" y="315.47" font-family="'DejaVu Sans', 'Liberation Sans', sans-serif" font-size="23">S<tspan font-size="15.2" dy="5.2">8</tspan></text>
<text x="1380.88" y="367.47" font-family="'DejaVu Sans', 'Liberation Sans', sans-serif" font-size="23">S<tspan font-size="15.2" dy="5.2">9</tspan></text>
<text x="1378.88" y="425.37" font-family="'DejaVu Sans', 'Liberation Sans', sans-serif" font-size="23">S<tspan font-size="15.2" dy="5.2">10</tspan></text>
<text x="1404.38" y="473.67" font-family="'DejaVu Sans', 'Liberation Sans', sans-serif" font-size="23">S<tspan font-size="15.2" dy="5.2">11</tspan></text>
<text x="1458.08" y="501.27" font-family="'DejaVu Sans', 'Liberation Sans', sans-serif" font-size="23">S<tspan font-size="15.2" dy="5.2">12</tspan></text>
<rect x="35.5" y="774.5" width="33.2" height="54" fill="#4F8B22" stroke="#305615" stroke-width="1"/>
<text transform="translate(44.2,770.5) scale(0.9240,1)" x="-0.73" y="0" font-family="'Liberation Sans', 'DejaVu Sans', sans-serif" font-size="14.6" fill="#1a1a1a">20</text>
<text transform="translate(44.15,844.6) scale(0.8433,1)" x="-0.66" y="0" font-family="'Liberation Sans', 'DejaVu Sans', sans-serif" font-size="14.6" fill="#1a1a1a">S1</text>
<rect x="78.16" y="774.5" width="33.2" height="54" fill="#4F8B22" stroke="#305615" stroke-width="1"/>
<text transform="translate(86.86,770.5) scale(0.9240,1)" x="-0.73" y="0" font-family="'Liberation Sans', 'DejaVu Sans', sans-serif" font-size="14.6" fill="#1a1a1a">20</text>
<text transform="translate(86.41,844.6) scale(0.8930,1)" x="-0.66" y="0" font-family="'Liberation Sans', 'DejaVu Sans', sans-serif" font-size="14.6" fill="#1a1a1a">S2</text>
<rect x="120.82" y="774.5" width="33.2" height="54" fill="#4F8B22" stroke="#305615" stroke-width="1"/>
<text transform="translate(129.52,770.5) scale(0.9240,1)" x="-0.73" y="0" font-family="'Liberation Sans', 'DejaVu Sans', sans-serif" font-size="14.6" fill="#1a1a1a">20</text>
<text transform="translate(129.07,844.6) scale(0.8880,1)" x="-0.66" y="0" font-family="'Liberation Sans', 'DejaVu Sans', sans-serif" font-size="14.6" fill="#1a1a1a">S3</text>
<rect x="163.48" y="774.5" width="33.2" height="54" fill="#4F8B22" stroke="#305615" stroke-width="1"/>
<text transform="translate(172.18,770.5) scale(0.9240,1)" x="-0.73" y="0" font-family="'Liberation Sans', 'DejaVu Sans', sans-serif" font-size="14.6" fill="#1a1a1a">20</text>
<text transform="translate(171.73,844.6) scale(0.8767,1)" x="-0.66" y="0" font-family="'Liberation Sans', 'DejaVu Sans', sans-serif" font-size="14.6" fill="#1a1a1a">S4</text>
<rect x="206.14" y="774.5" width="33.2" height="54" fill="#4F8B22" stroke="#305615" stroke-width="1"/>
<text transform="translate(214.84,770.5) scale(0.9240,1)" x="-0.73" y="0" font-family="'Liberation Sans', 'DejaVu Sans', sans-serif" font-size="14.6" fill="#1a1a1a">20</text>
<text transform="translate(214.39,844.6) scale(0.8865,1)" x="-0.66" y="0" font-family="'Liberation Sans', 'DejaVu Sans', sans-serif" font-size="14.6" fill="#1a1a1a">S5</text>
<rect x="248.8" y="774.5" width="33.2" height="54" fill="#4F8B22" stroke="#305615" stroke-width="1"/>
<text transform="translate(257.5,770.5) scale(0.9240,1)" x="-0.73" y="0" font-family="'Liberation Sans', 'DejaVu Sans', sans-serif" font-size="14.6" fill="#1a1a1a">20</text>
<text transform="translate(257.05,844.6) scale(0.8880,1)" x="-0.66" y="0" font-family="'Liberation Sans', 'DejaVu Sans', sans-serif" font-size="14.6" fill="#1a1a1a">S6</text>
<rect x="291.46" y="774.5" width="33.2" height="54" fill="#4F8B22" stroke="#305615" stroke-width="1"/>
<text transform="translate(300.16,770.5) scale(0.9240,1)" x="-0.73" y="0" font-family="'Liberation Sans', 'DejaVu Sans', sans-serif" font-size="14.6" fill="#1a1a1a">20</text>
<text transform="translate(299.71,844.6) scale(0.8930,1)" x="-0.66" y="0" font-family="'Liberation Sans', 'DejaVu Sans', sans-serif" font-size="14.6" fill="#1a1a1a">S7</text>
<rect x="334.12" y="774.5" width="33.2" height="54" fill="#4F8B22" stroke="#305615" stroke-width="1"/>
<text transform="translate(342.82,770.5) scale(0.9240,1)" x="-0.73" y="0" font-family="'Liberation Sans', 'DejaVu Sans', sans-serif" font-size="14.6" fill="#1a1a1a">20</text>
<text transform="translate(342.37,844.6) scale(0.8877,1)" x="-0.66" y="0" font-family="'Liberation Sans', 'DejaVu Sans', sans-serif" font-size="14.6" fill="#1a1a1a">S8</text>
<rect x="376.78" y="774.5" width="33.2" height="54" fill="#4F8B22" stroke="#305615" stroke-width="1"/>
<text transform="translate(385.48,770.5) scale(0.9240,1)" x="-0.73" y="0" font-family="'Liberation Sans', 'DejaVu Sans', sans-serif" font-size="14.6" fill="#1a1a1a">20</text>
<text transform="translate(385.03,844.6) scale(0.8907,1)" x="-0.66" y="0" font-family="'Liberation Sans', 'DejaVu Sans', sans-serif" font-size="14.6" fill="#1a1a1a">S9</text>
<rect x="419.44" y="774.5" width="33.2" height="54" fill="#4F8B22" stroke="#305615" stroke-width="1"/>
<text transform="translate(428.14,770.5) scale(0.9240,1)" x="-0.73" y="0" font-family="'Liberation Sans', 'DejaVu Sans', sans-serif" font-size="14.6" fill="#1a1a1a">20</text>
<text transform="translate(424.09,844.6) scale(0.8850,1)" x="-0.66" y="0" font-family="'Liberation Sans', 'DejaVu Sans', sans-serif" font-size="14.6" fill="#1a1a1a">S10</text>
<rect x="462.1" y="774.5" width="33.2" height="54" fill="#4F8B22" stroke="#305615" stroke-width="1"/>
<text transform="translate(470.8,770.5) scale(0.9240,1)" x="-0.73" y="0" font-family="'Liberation Sans', 'DejaVu Sans', sans-serif" font-size="14.6" fill="#1a1a1a">20</text>
<text transform="translate(467.15,844.6) scale(0.8577,1)" x="-0.66" y="0" font-family="'Liberation Sans', 'DejaVu Sans', sans-serif" font-size="14.6" fill="#1a1a1a">S11</text>
<rect x="504.76" y="774.5" width="33.2" height="54" fill="#4F8B22" stroke="#305615" stroke-width="1"/>
<text transform="translate(513.46,770.5) scale(0.9240,1)" x="-0.73" y="0" font-family="'Liberation Sans', 'DejaVu Sans', sans-serif" font-size="14.6" fill="#1a1a1a">20</text>
<text transform="translate(509.41,844.6) scale(0.8910,1)" x="-0.66" y="0" font-family="'Liberation Sans', 'DejaVu Sans', sans-serif" font-size="14.6" fill="#1a1a1a">S12</text>
<line x1="30.6" y1="828.5" x2="415" y2="828.5" stroke="#222" stroke-width="1.3"/>
<rect x="650.6" y="735.7" width="33.2" height="81" fill="#D98021" stroke="#864f14" stroke-width="1"/>
<text transform="translate(659.3,731.4) scale(0.9131,1)" x="-0.56" y="0" font-family="'Liberation Sans', 'DejaVu Sans', sans-serif" font-size="14.6" fill="#1a1a1a">30</text>
<text transform="translate(659.25,832.9) scale(0.8433,1)" x="-0.66" y="0" font-family="'Liberation Sans', 'DejaVu Sans', sans-serif" font-size="14.6" fill="#1a1a1a">S1</text>
<rect x="693.26" y="735.7" width="33.2" height="81" fill="#D98021" stroke="#864f14" stroke-width="1"/>
<text transform="translate(701.96,731.4) scale(0.9131,1)" x="-0.56" y="0" font-family="'Liberation Sans', 'DejaVu Sans', sans-serif" font-size="14.6" fill="#1a1a1a">30</text>
<text transform="translate(701.51,832.9) scale(0.8930,1)" x="-0.66" y="0" font-family="'Liberation Sans', 'DejaVu Sans', sans-serif" font-size="14.6" fill="#1a1a1a">S2</text>
<rect x="735.92" y="816.7" width="33.2" height="81" fill="#DAC72E" stroke="#877b1c" stroke-width="1"/>
<text transform="translate(741.97,914.2) scale(0.9606,1)" x="-0.65" y="0" font-family="'Liberation Sans', 'DejaVu Sans', sans-serif" font-size="14.6" fill="#1a1a1a">-30</text>
<text transform="translate(744.17,812.6) scale(0.8880,1)" x="-0.66" y="0" font-family="'Liberation Sans', 'DejaVu Sans', sans-serif" font-size="14.6" fill="#1a1a1a">S3</text>
<rect x="778.58" y="816.7" width="33.2" height="81" fill="#DAC72E" stroke="#877b1c" stroke-width="1"/>
<text transform="translate(784.63,914.2) scale(0.9606,1)" x="-0.65" y="0" font-family="'Liberation Sans', 'DejaVu Sans', sans-serif" font-size="14.6" fill="#1a1a1a">-30</text>
<text transform="translate(786.83,812.6) scale(0.8767,1)" x="-0.66" y="0" font-family="'Liberation Sans', 'DejaVu Sans', sans-serif" font-size="14.6" fill="#1a1a1a">S4</text>
<rect x="821.24" y="816.7" width="33.2" height="81" fill="#DAC72E" stroke="#877b1c" stroke-width="1"/>
<text transform="translate(827.29,914.2) scale(0.9606,1)" x="-0.65" y="0" font-family="'Liberation Sans', 'DejaVu Sans', sans-serif" font-size="14.6" fill="#1a1a1a">-30</text>
<text transform="translate(829.49,812.6) scale(0.8865,1)" x="-0.66" y="0" font-family="'Liberation Sans', 'DejaVu Sans', sans-serif" font-size="14.6" fill="#1a1a1a">S5</text>
<rect x="863.9" y="816.7" width="33.2" height="81" fill="#DAC72E" stroke="#877b1c" stroke-width="1"/>
<text transform="translate(869.95,914.2) scale(0.9606,1)" x="-0.65" y="0" font-family="'Liberation Sans', 'DejaVu Sans', sans-serif" font-size="14.6" fill="#1a1a1a">-30</text>
<text transform="translate(872.15,812.6) scale(0.8880,1)" x="-0.66" y="0" font-family="'Liberation Sans', 'DejaVu Sans', sans-serif" font-size="14.6" fill="#1a1a1a">S6</text>
<rect x="906.56" y="816.7" width="33.2" height="81" fill="#DAC72E" stroke="#877b1c" stroke-width="1"/>
<text transform="translate(912.61,914.2) scale(0.9606,1)" x="-0.65" y="0" font-family="'Liberation Sans', 'DejaVu Sans', sans-serif" font-size="14.6" fill="#1a1a1a">-30</text>
<text transform="translate(914.81,812.6) scale(0.8930,1)" x="-0.66" y="0" font-family="'Liberation Sans', 'DejaVu Sans', sans-serif" font-size="14.6" fill="#1a1a1a">S7</text>
<rect x="949.22" y="816.7" width="33.2" height="81" fill="#DAC72E" stroke="#877b1c" stroke-width="1"/>
<text transform="translate(955.27,914.2) scale(0.9606,1)" x="-0.65" y="0" font-family="'Liberation Sans', 'DejaVu Sans', sans-serif" font-size="14.6" fill="#1a1a1a">-30</text>
<text transform="translate(957.47,812.6) scale(0.8877,1)" x="-0.66" y="0" font-family="'Liberation Sans', 'DejaVu Sans', sans-serif" font-size="14.6" fill="#1a1a1a">S8</text>
<rect x="991.88" y="816.7" width="33.2" height="81" fill="#DAC72E" stroke="#877b1c" stroke-width="1"/>
<text transform="translate(997.93,914.2) scale(0.9606,1)" x="-0.65" y="0" font-family="'Liberation Sans', 'DejaVu Sans', sans-serif" font-size="14.6" fill="#1a1a1a">-30</text>
<text transform="translate(1000.13,812.6) scale(0.8907,1)" x="-0.66" y="0" font-family="'Liberation Sans', 'DejaVu Sans', sans-serif" font-size="14.6" fill="#1a1a1a">S9</text>
<rect x="1034.54" y="816.7" width="33.2" height="81" fill="#DAC72E" stroke="#877b1c" stroke-width="1"/>
<text transform="translate(1040.59,914.2) scale(0.9606,1)" x="-0.65" y="0" font-family="'Liberation Sans', 'DejaVu Sans', sans-serif" font-size="14.6" fill="#1a1a1a">-30</text>
<text transform="translate(1039.19,812.6) scale(0.8850,1)" x="-0.66" y="0" font-family="'Liberation Sans', 'DejaVu Sans', sans-serif" font-size="14.6" fill="#1a1a1a">S10</text>
<rect x="1077.2" y="816.7" width="33.2" height="81" fill="#DAC72E" stroke="#877b1c" stroke-width="1"/>
<text transform="translate(1083.25,914.2) scale(0.9606,1)" x="-0.65" y="0" font-family="'Liberation Sans', 'DejaVu Sans', sans-serif" font-size="14.6" fill="#1a1a1a">-30</text>
<text transform="translate(1082.25,812.6) scale(0.8577,1)" x="-0.66" y="0" font-family="'Liberation Sans', 'DejaVu Sans', sans-serif" font-size="14.6" fill="#1a1a1a">S11</text>
<rect x="1119.86" y="816.7" width="33.2" height="81" fill="#DAC72E" stroke="#877b1c" stroke-width="1"/>
<text transform="translate(1125.91,914.2) scale(0.9606,1)" x="-0.65" y="0" font-family="'Liberation Sans', 'DejaVu Sans', sans-serif" font-size="14.6" fill="#1a1a1a">-30</text>
<text transform="translate(1124.51,812.6) scale(0.8910,1)" x="-0.66" y="0" font-family="'Liberation Sans', 'DejaVu Sans', sans-serif" font-size="14.6" fill="#1a1a1a">S12</text>
<line x1="645.7" y1="816.7" x2="1030.1" y2="816.7" stroke="#222" stroke-width="1.3"/>
<rect x="1265.5" y="763.2" width="33.2" height="54" fill="#2B45D2" stroke="#1a2a82" stroke-width="1"/>
<text transform="translate(1274.2,758.8) scale(0.9240,1)" x="-0.73" y="0" font-family="'Liberation Sans', 'DejaVu Sans', sans-serif" font-size="14.6" fill="#1a1a1a">20</text>
<text transform="translate(1274.15,832.4) scale(0.8433,1)" x="-0.66" y="0" font-family="'Liberation Sans', 'DejaVu Sans', sans-serif" font-size="14.6" fill="#1a1a1a">S1</text>
<rect x="1308.16" y="763.2" width="33.2" height="54" fill="#2B45D2" stroke="#1a2a82" stroke-width="1"/>
<text transform="translate(1316.86,758.8) scale(0.9240,1)" x="-0.73" y="0" font-family="'Liberation Sans', 'DejaVu Sans', sans-serif" font-size="14.6" fill="#1a1a1a">20</text>
<text transform="translate(1316.41,832.4) scale(0.8930,1)" x="-0.66" y="0" font-family="'Liberation Sans', 'DejaVu Sans', sans-serif" font-size="14.6" fill="#1a1a1a">S2</text>
<rect x="1350.82" y="763.2" width="33.2" height="54" fill="#2B45D2" stroke="#1a2a82" stroke-width="1"/>
<text transform="translate(1359.52,758.8) scale(0.9240,1)" x="-0.73" y="0" font-family="'Liberation Sans', 'DejaVu Sans', sans-serif" font-size="14.6" fill="#1a1a1a">20</text>
<text transform="translate(1359.07,832.4) scale(0.8880,1)" x="-0.66" y="0" font-family="'Liberation Sans', 'DejaVu Sans', sans-serif" font-size="14.6" fill="#1a1a1a">S3</text>
<rect x="1393.48" y="763.2" width="33.2" height="54" fill="#2B45D2" stroke="#1a2a82" stroke-width="1"/>
<text transform="translate(1402.18,758.8) scale(0.9240,1)" x="-0.73" y="0" font-family="'Liberation Sans', 'DejaVu Sans', sans-serif" font-size="14.6" fill="#1a1a1a">20</text>
<text transform="translate(1401.73,832.4) scale(0.8767,1)" x="-0.66" y="0" font-family="'Liberation Sans', 'DejaVu Sans', sans-serif" font-size="14.6" fill="#1a1a1a">S4</text>
<rect x="1436.14" y="763.2" width="33.2" height="54" fill="#2B45D2" stroke="#1a2a82" stroke-width="1"/>
<text transform="translate(1444.84,758.8) scale(0.9240,1)" x="-0.73" y="0" font-family="'Liberation Sans', 'DejaVu Sans', sans-serif" font-size="14.6" fill="#1a1a1a">20</text>
<text transform="translate(1444.39,832.4) scale(0.8865,1)" x="-0.66" y="0" font-family="'Liberation Sans', 'DejaVu Sans', sans-serif" font-size="14.6" fill="#1a1a1a">S5</text>
<rect x="1478.8" y="763.2" width="33.2" height="54" fill="#2B45D2" stroke="#1a2a82" stroke-width="1"/>
<text transform="translate(1487.5,758.8) scale(0.9240,1)" x="-0.73" y="0" font-family="'Liberation Sans', 'DejaVu Sans', sans-serif" font-size="14.6" fill="#1a1a1a">20</text>
<text transform="translate(1487.05,832.4) scale(0.8880,1)" x="-0.66" y="0" font-family="'Liberation Sans', 'DejaVu Sans', sans-serif" font-size="14.6" fill="#1a1a1a">S6</text>
<rect x="1521.46" y="817.2" width="33.2" height="54" fill="#4A89D4" stroke="#2d5483" stroke-width="1"/>
<text transform="translate(1527.51,886.6) scale(0.9606,1)" x="-0.65" y="0" font-family="'Liberation Sans', 'DejaVu Sans', sans-serif" font-size="14.6" fill="#1a1a1a">-20</text>
<text transform="translate(1529.71,812.4) scale(0.8930,1)" x="-0.66" y="0" font-family="'Liberation Sans', 'DejaVu Sans', sans-serif" font-size="14.6" fill="#1a1a1a">S7</text>
<rect x="1564.12" y="817.2" width="33.2" height="54" fill="#4A89D4" stroke="#2d5483" stroke-width="1"/>
<text transform="translate(1570.17,886.6) scale(0.9606,1)" x="-0.65" y="0" font-family="'Liberation Sans', 'DejaVu Sans', sans-serif" font-size="14.6" fill="#1a1a1a">-20</text>
<text transform="translate(1572.37,812.4) scale(0.8877,1)" x="-0.66" y="0" font-family="'Liberation Sans', 'DejaVu Sans', sans-serif" font-size="14.6" fill="#1a1a1a">S8</text>
<rect x="1606.78" y="817.2" width="33.2" height="54" fill="#4A89D4" stroke="#2d5483" stroke-width="1"/>
<text transform="translate(1612.83,886.6) scale(0.9606,1)" x="-0.65" y="0" font-family="'Liberation Sans', 'DejaVu Sans', sans-serif" font-size="14.6" fill="#1a1a1a">-20</text>
<text transform="translate(1615.03,812.4) scale(0.8907,1)" x="-0.66" y="0" font-family="'Liberation Sans', 'DejaVu Sans', sans-serif" font-size="14.6" fill="#1a1a1a">S9</text>
<rect x="1649.44" y="817.2" width="33.2" height="54" fill="#4A89D4" stroke="#2d5483" stroke-width="1"/>
<text transform="translate(1655.49,886.6) scale(0.9606,1)" x="-0.65" y="0" font-family="'Liberation Sans', 'DejaVu Sans', sans-serif" font-size="14.6" fill="#1a1a1a">-20</text>
<text transform="translate(1654.09,812.4) scale(0.8850,1)" x="-0.66" y="0" font-family="'Liberation Sans', 'DejaVu Sans', sans-serif" font-size="14.6" fill="#1a1a1a">S10</text>
<rect x="1692.1" y="817.2" width="33.2" height="54" fill="#4A89D4" stroke="#2d5483" stroke-width="1"/>
<text transform="translate(1698.15,886.6) scale(0.9606,1)" x="-0.65" y="0" font-family="'Liberation Sans', 'DejaVu Sans', sans-serif" font-size="14.6" fill="#1a1a1a">-20</text>
<text transform="translate(1697.15,812.4) scale(0.8577,1)" x="-0.66" y="0" font-family="'Liberation Sans', 'DejaVu Sans', sans-serif" font-size="14.6" fill="#1a1a1a">S11</text>
<rect x="1734.76" y="817.2" width="33.2" height="54" fill="#4A89D4" stroke="#2d5483" stroke-width="1"/>
<text transform="translate(1740.81,886.6) scale(0.9606,1)" x="-0.65" y="0" font-family="'Liberation Sans', 'DejaVu Sans', sans-serif" font-size="14.6" fill="#1a1a1a">-20</text>
<text transform="translate(1739.41,812.4) scale(0.8910,1)" x="-0.66" y="0" font-family="'Liberation Sans', 'DejaVu Sans', sans-serif" font-size="14.6" fill="#1a1a1a">S12</text>
<line x1="1260.6" y1="817.2" x2="1645" y2="817.2" stroke="#222" stroke-width="1.3"/>
<text transform="translate(20.6,877.9) rotate(-90) scale(1.2018,1.0600)" x="-0.57" y="0" font-family="'Liberation Sans', 'DejaVu Sans', sans-serif" font-size="19.3" fill="#1a1a1a">Δ</text>
<text transform="translate(20.6,855.2) rotate(-90) scale(0.9410,1.0000)" x="-1.58" y="0" font-family="'Liberation Sans', 'DejaVu Sans', sans-serif" font-size="19.3" fill="#1a1a1a">LAT</text>
<text transform="translate(20.6,814.8) rotate(-90) scale(0.9617,1.0000)" x="-1.2" y="0" font-family="'Liberation Sans', 'DejaVu Sans', sans-serif" font-size="19.3" fill="#1a1a1a">(ms)</text>
<text transform="translate(636,865.7) rotate(-90) scale(1.2018,1.0600)" x="-0.57" y="0" font-family="'Liberation Sans', 'DejaVu Sans', sans-serif" font-size="19.3" fill="#1a1a1a">Δ</text>
<text transform="translate(636,843) rotate(-90) scale(0.9410,1.0000)" x="-1.58" y="0" font-family="'Liberation Sans', 'DejaVu Sans', sans-serif" font-size="19.3" fill="#1a1a1a">LAT</text>
<text transform="translate(636,802.6) rotate(-90) scale(0.9617,1.0000)" x="-1.2" y="0" font-family="'Liberation Sans', 'DejaVu Sans', sans-serif" font-size="19.3" fill="#1a1a1a">(ms)</text>
<text transform="translate(1251.2,866.1) rotate(-90) scale(1.2018,1.0600)" x="-0.57" y="0" font-family="'Liberation Sans', 'DejaVu Sans', sans-serif" font-size="19.3" fill="#1a1a1a">Δ</text>
<text transform="translate(1251.2,843.4) rotate(-90) scale(0.9410,1.0000)" x="-1.58" y="0" font-family="'Liberation Sans', 'DejaVu Sans', sans-serif" font-size="19.3" fill="#1a1a1a">LAT</text>
<text transform="translate(1251.2,803) rotate(-90) scale(0.9617,1.0000)" x="-1.2" y="0" font-family="'Liberation Sans', 'DejaVu Sans', sans-serif" font-size="19.3" fill="#1a1a1a">(ms)</text>
<text x="132.7" y="982.6" font-family="'Liberation Sans', 'DejaVu Sans', sans-serif" font-size="19" fill="#1a1a1a" textLength="307.2" lengthAdjust="spacingAndGlyphs">counter-clockwise sequence of sections</text>
<text x="747.7" y="969.9" font-family="'Liberation Sans', 'DejaVu Sans', sans-serif" font-size="19" fill="#1a1a1a" textLength="307.5" lengthAdjust="spacingAndGlyphs">counter-clockwise sequence of sections</text>
<text x="1362.7" y="969.9" font-family="'Liberation Sans', 'DejaVu Sans', sans-serif" font-size="19" fill="#1a1a1a" textLength="307.5" lengthAdjust="spacingAndGlyphs">counter-clockwise sequence of sections</text>
<text transform="translate(108.57,1116.1) scale(1.0000,1.0000)" x="0.17" y="0" font-family="'Liberation Serif', 'DejaVu Serif', serif" font-size="44.59" font-style="italic">I</text>
<text transform="translate(142,1119.25) scale(1.4959,1.0000)" x="-2.03" y="0" font-family="'Liberation Serif', 'DejaVu Serif', serif" font-size="40.8">=</text>
<text transform="translate(193,1087.2) scale(1.0257,1.0000)" x="-3.81" y="0" font-family="'Liberation Serif', 'DejaVu Serif', serif" font-size="43.35">12</text>
<text transform="translate(248.7,1093.29) scale(1.0012,1.0000)" x="-3.98" y="0" font-family="'Liberation Serif', 'DejaVu Serif', serif" font-size="50.34">×</text>
<text transform="translate(287,1087.47) scale(0.9876,1.0000)" x="-1.91" y="0" font-family="'Liberation Serif', 'DejaVu Serif', serif" font-size="43.57">20</text>
<line x1="189.7" y1="1105.5" x2="327.7" y2="1105.5" stroke="#000" stroke-width="1.8"/>
<text transform="translate(228.4,1146.47) scale(0.9920,1.0000)" x="-1.93" y="0" font-family="'Liberation Serif', 'DejaVu Serif', serif" font-size="43.86">240</text>
<text transform="translate(347.2,1119.5) scale(1.4634,1.0000)" x="-2.09" y="0" font-family="'Liberation Serif', 'DejaVu Serif', serif" font-size="42">=</text>
<text transform="translate(392.6,1125.56) scale(1.3221,1.3067)" x="-2.29" y="0" font-family="'Liberation Serif', 'DejaVu Serif', serif" font-size="46">+</text>
<text transform="translate(427.7,1116.6) scale(0.8917,1.0000)" x="-3.81" y="0" font-family="'Liberation Serif', 'DejaVu Serif', serif" font-size="43.32">1</text>
<text transform="translate(639.04,1116.3) scale(1.0000,1.0000)" x="0.17" y="0" font-family="'Liberation Serif', 'DejaVu Serif', serif" font-size="44.75" font-style="italic">I</text>
<text transform="translate(672.6,1119.48) scale(1.4293,1.0000)" x="-2.11" y="0" font-family="'Liberation Serif', 'DejaVu Serif', serif" font-size="42.4">=</text>
<line x1="721" y1="1105.6" x2="1027.4" y2="1105.6" stroke="#000" stroke-width="1.8"/>
<text transform="translate(722.4,1087.8) scale(1.0164,1.0000)" x="-1.9" y="0" font-family="'Liberation Serif', 'DejaVu Serif', serif" font-size="43.2">2</text>
<text transform="translate(757.7,1093.46) scale(1.0356,1.0000)" x="-3.96" y="0" font-family="'Liberation Serif', 'DejaVu Serif', serif" font-size="50.09">×</text>
<text transform="translate(796.2,1087.68) scale(0.9988,1.0000)" x="-2.05" y="0" font-family="'Liberation Serif', 'DejaVu Serif', serif" font-size="42.83">30</text>
<text transform="translate(850.3,1087.43) scale(1.2552,0.7758)" x="-2.19" y="0" font-family="'Liberation Serif', 'DejaVu Serif', serif" font-size="44">−</text>
<text transform="translate(892.9,1087.68) scale(0.9991,1.0000)" x="-3.76" y="0" font-family="'Liberation Serif', 'DejaVu Serif', serif" font-size="42.83">10</text>
<text transform="translate(948.4,1093.46) scale(0.9963,1.0000)" x="-3.96" y="0" font-family="'Liberation Serif', 'DejaVu Serif', serif" font-size="50.09">×</text>
<text transform="translate(986.7,1087.68) scale(1.0090,1.0000)" x="-2.05" y="0" font-family="'Liberation Serif', 'DejaVu Serif', serif" font-size="42.83">30</text>
<text transform="translate(843.5,1145.98) scale(0.9973,1.0000)" x="-1.91" y="0" font-family="'Liberation Serif', 'DejaVu Serif', serif" font-size="43.42">240</text>
<text transform="translate(1047,1119.84) scale(1.4227,1.0000)" x="-2.15" y="0" font-family="'Liberation Serif', 'DejaVu Serif', serif" font-size="43.2">=</text>
<text transform="translate(1093.3,1116.53) scale(1.2503,0.7758)" x="-2.19" y="0" font-family="'Liberation Serif', 'DejaVu Serif', serif" font-size="44">−</text>
<text transform="translate(1126.2,1116.6) scale(1.0246,1.0000)" x="-3.73" y="0" font-family="'Liberation Serif', 'DejaVu Serif', serif" font-size="42.41">1</text>
<text transform="translate(1280.64,1116.3) scale(1.0000,1.0000)" x="0.17" y="0" font-family="'Liberation Serif', 'DejaVu Serif', serif" font-size="44.75" font-style="italic">I</text>
<text transform="translate(1314.4,1119.48) scale(1.4090,1.0000)" x="-2.11" y="0" font-family="'Liberation Serif', 'DejaVu Serif', serif" font-size="42.4">=</text>
<line x1="1362.4" y1="1105.6" x2="1647.3" y2="1105.6" stroke="#000" stroke-width="1.8"/>
<text transform="translate(1363.4,1087.68) scale(1.0230,1.0000)" x="-1.85" y="0" font-family="'Liberation Serif', 'DejaVu Serif', serif" font-size="43.01">6</text>
<text transform="translate(1399.5,1093.46) scale(0.9963,1.0000)" x="-3.96" y="0" font-family="'Liberation Serif', 'DejaVu Serif', serif" font-size="50.09">×</text>
<text transform="translate(1437.9,1087.68) scale(1.0047,1.0000)" x="-1.88" y="0" font-family="'Liberation Serif', 'DejaVu Serif', serif" font-size="42.83">20</text>
<text transform="translate(1492.3,1087.63) scale(1.2503,0.7758)" x="-2.19" y="0" font-family="'Liberation Serif', 'DejaVu Serif', serif" font-size="44">−</text>
<text transform="translate(1532.8,1087.97) scale(0.9775,1.0000)" x="-1.89" y="0" font-family="'Liberation Serif', 'DejaVu Serif', serif" font-size="44.06">6</text>
<text transform="translate(1568,1093.52) scale(1.0352,1.0000)" x="-4" y="0" font-family="'Liberation Serif', 'DejaVu Serif', serif" font-size="50.59">×</text>
<text transform="translate(1606.9,1087.97) scale(0.9835,1.0000)" x="-1.93" y="0" font-family="'Liberation Serif', 'DejaVu Serif', serif" font-size="43.86">20</text>
<text transform="translate(1475.2,1146.08) scale(0.9843,1.0000)" x="-1.91" y="0" font-family="'Liberation Serif', 'DejaVu Serif', serif" font-size="43.42">240</text>
<text transform="translate(1666.1,1119.28) scale(1.5155,1.0000)" x="-2.11" y="0" font-family="'Liberation Serif', 'DejaVu Serif', serif" font-size="42.4">=</text>
<text transform="translate(1711.1,1117.07) scale(1.0005,1.0000)" x="-1.67" y="0" font-family="'Liberation Serif', 'DejaVu Serif', serif" font-size="43.86">0</text>
</svg></body></html>
